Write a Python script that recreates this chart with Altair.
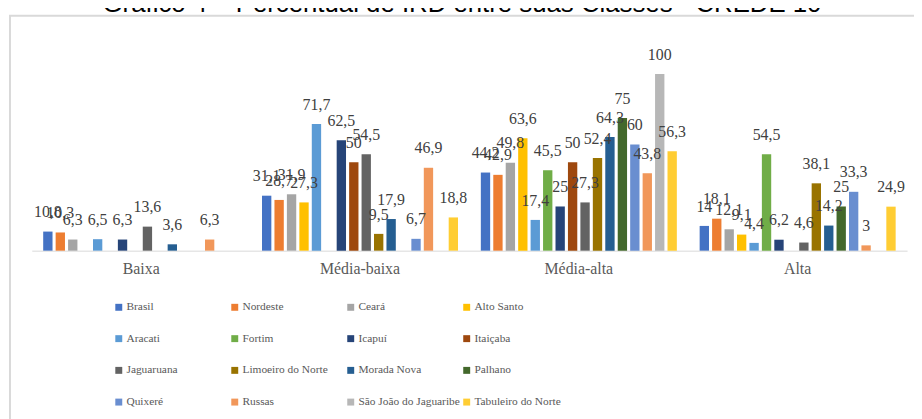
import altair as alt
import pandas as pd

title_text = "Gráfico 4 – Percentual de IRD entre suas Classes - CREDE 10"

categories = ["Baixa", "Média-baixa", "Média-alta", "Alta"]
series = ["Brasil", "Nordeste", "Ceará", "Alto Santo", "Aracati", "Fortim", "Icapuí",
          "Itaiçaba", "Jaguaruana", "Limoeiro do Norte", "Morada Nova", "Palhano",
          "Quixeré", "Russas", "São João do Jaguaribe", "Tabuleiro do Norte"]
colors = ["#4472C4", "#ED7D31", "#A5A5A5", "#FFC000", "#5B9BD5", "#70AD47", "#264478",
          "#9E480E", "#636363", "#997300", "#255E91", "#43682B", "#698ED0", "#F1975A",
          "#B7B7B7", "#FFCD33"]

# values per category: Baixa, Média-baixa, Média-alta, Alta (None = no bar)
brasil = [10.8, 31.1, 44.2, 14]
nordeste = [10.3, 28.7, 42.9, 18.1]
ceara = [6.3, 31.9, 49.8, 12.1]
alto_santo = [None, 27.3, 63.6, 9.1]
aracati = [6.5, 71.7, 17.4, 4.4]
fortim = [None, None, 45.5, 54.5]
icapui = [6.3, 62.5, 25, 6.2]
itaicaba = [None, 50, 50, None]
jaguaruana = [13.6, 54.5, 27.3, 4.6]
limoeiro = [None, 9.5, 52.4, 38.1]
morada_nova = [3.6, 17.9, 64.3, 14.2]
palhano = [None, None, 75, 25]
quixere = [None, 6.7, 60, 33.3]
russas = [6.3, 46.9, 43.8, 3]
sao_joao = [None, None, 100, None]
tabuleiro = [None, 18.8, 56.3, 24.9]

values = [brasil, nordeste, ceara, alto_santo, aracati, fortim, icapui, itaicaba,
          jaguaruana, limoeiro, morada_nova, palhano, quixere, russas, sao_joao, tabuleiro]

SERIF = "Liberation Serif"
SANS = "Liberation Sans"


def fmt(v):
    if float(v).is_integer():
        return str(int(v))
    return f"{v:.1f}".replace(".", ",")


rows = []
for s, vals in zip(series, values):
    for c, v in zip(categories, vals):
        if v is not None:
            rows.append({"Categoria": c, "Série": s, "Valor": v, "Rótulo": fmt(v)})
df = pd.DataFrame(rows)

x_enc = alt.X("Categoria:N", sort=categories,
              scale=alt.Scale(domain=categories, paddingInner=0.09, paddingOuter=0.045),
              axis=alt.Axis(title=None, labelAngle=0, ticks=False, domainColor="#d9d9d9",
                            domainWidth=1, labelFont=SERIF, labelFontSize=16,
                            labelColor="#595959", labelPadding=10))
xo_enc = alt.XOffset("Série:N", sort=series,
                     scale=alt.Scale(domain=series, paddingInner=0.25, paddingOuter=0.125))
y_enc = alt.Y("Valor:Q", scale=alt.Scale(domain=[0, 120]), axis=None)

bars = alt.Chart(df).mark_bar().encode(
    x=x_enc, xOffset=xo_enc, y=y_enc,
    color=alt.Color("Série:N", sort=series,
                    scale=alt.Scale(domain=series, range=colors),
                    legend=alt.Legend(title=None, orient="none", legendX=82, legendY=265,
                                      direction="horizontal", columns=4, gridAlign="all",
                                      columnPadding=0, rowPadding=19, symbolType="square",
                                      symbolSize=49, symbolStrokeWidth=0,
                                      labelFont=SERIF, labelFontSize=11.5,
                                      labelColor="#595959", labelOffset=2,
                                      labelLimit=300, padding=0))
)

labels = alt.Chart(df).mark_text(baseline="alphabetic", dy=-14.5, font=SERIF,
                                 fontSize=16, color="#404040").encode(
    x=x_enc, xOffset=xo_enc, y=y_enc, text="Rótulo:N"
)

title_df = pd.DataFrame({"t": [title_text]})
title = alt.Chart(title_df).mark_text(align="center", baseline="alphabetic",
                                      font=SANS, fontSize=26,
                                      color="#000000").encode(
    text="t:N", x=alt.value(434), y=alt.value(-26.5)
)

frame_left = alt.Chart(title_df).mark_rule(color="#d9d9d9", strokeWidth=2).encode(
    x=alt.value(-22), y=alt.value(-23), y2=alt.value(400)
)
frame_top = alt.Chart(title_df).mark_rule(color="#d9d9d9", strokeWidth=2).encode(
    x=alt.value(-23), x2=alt.value(900), y=alt.value(-23)
)

chart = alt.layer(frame_left, frame_top, title, bars, labels).properties(
    width=883, height=214,
    padding={"left": 24, "top": 29, "right": 7, "bottom": 168},
    autosize=alt.AutoSizeParams(type="none"),
).configure_view(stroke=None)

chart.save("out.html", embed_options={"renderer": "svg", "actions": False})
